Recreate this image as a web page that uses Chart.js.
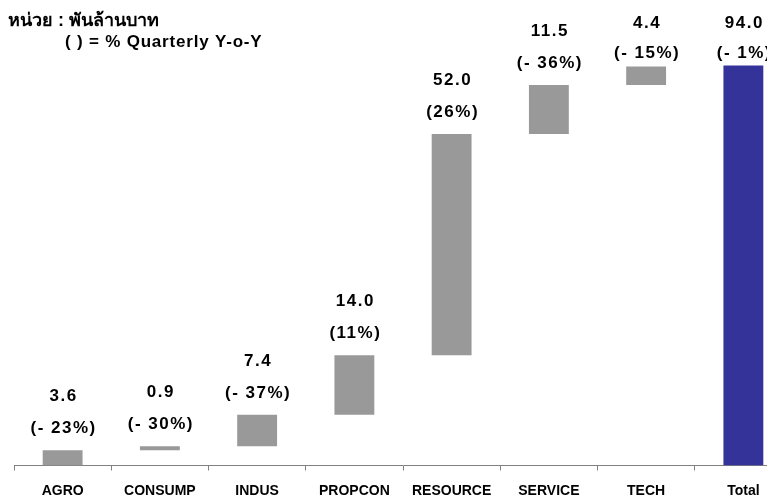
<!DOCTYPE html>
<html>
<head>
<meta charset="utf-8">
<script src="https://cdn.jsdelivr.net/npm/chart.js@4.4.1/dist/chart.umd.min.js"></script>
<style>
  html, body { margin: 0; padding: 0; background: #fff; overflow: hidden; }
  #wrap { width: 800px; height: 497px; }
</style>
</head>
<body>
<div id="wrap"><canvas id="grafico"></canvas></div>
<script>
// datos
var categorias = ['AGRO', 'CONSUMP', 'INDUS', 'PROPCON', 'RESOURCE', 'SERVICE', 'TECH', 'Total'];
var valores = [3.6, 0.9, 7.4, 14.0, 52.0, 11.5, 4.4, 94.0];
var yoy = ['(- 23%)', '(- 30%)', '(- 37%)', '(11%)', '(26%)', '(- 36%)', '(- 15%)', '(- 1%)'];
var titulo1 = 'หน่วย : พันล้านบาท';
var titulo2 = '( ) = % Quarterly Y-o-Y';

// barras flotantes (cascada), la ultima es el total
var barras = [];
var acum = 0;
for (var i = 0; i < valores.length; i++) {
  if (i == valores.length - 1) {
    barras.push([0, valores[i]]);
  } else {
    barras.push([acum, acum + valores[i]]);
    acum = acum + valores[i];
  }
}
var colores = valores.map(function (v, i) {
  return i == valores.length - 1 ? '#333399' : '#999999';
});

var etiquetas = {
  id: 'etiquetas',
  afterDatasetsDraw: function (chart) {
    var ctx = chart.ctx;
    var meta = chart.getDatasetMeta(0);
    ctx.save();
    ctx.fillStyle = '#000';
    ctx.textAlign = 'center';
    ctx.textBaseline = 'middle';
    ctx.font = 'bold 17px "Liberation Sans", Arial, sans-serif';
    ctx.letterSpacing = '1.5px';
    meta.data.forEach(function (bar, i) {
      var top = bar.y;
      var yPct = Math.max(top - 22, 53);
      var yVal = Math.max(yPct - 32, 23);
      ctx.fillText(valores[i].toFixed(1), bar.x + 1, yVal);
      ctx.fillText(yoy[i], bar.x + 1, yPct);
    });
    // titulo
    ctx.textAlign = 'left';
    ctx.textBaseline = 'alphabetic';
    ctx.letterSpacing = '0px';
    ctx.font = 'bold 18px "Liberation Sans", Arial, sans-serif';
    ctx.fillText(titulo1, 8, 26);
    ctx.letterSpacing = '0.8px';
    ctx.font = 'bold 17px "Liberation Sans", Arial, sans-serif';
    ctx.fillText(titulo2, 65, 47);
    ctx.restore();
  }
};

var ctx = document.getElementById('grafico').getContext('2d');
var miGrafico = new Chart(ctx, {
  type: 'bar',
  data: {
    labels: categorias,
    datasets: [{
      data: barras,
      backgroundColor: colores,
      borderWidth: 0,
      categoryPercentage: 1,
      barPercentage: 0.41
    }]
  },
  options: {
    responsive: true,
    maintainAspectRatio: false,
    animation: false,
    devicePixelRatio: 1,
    layout: { padding: { top: 40, left: 14, right: 8, bottom: 0 } },
    plugins: {
      legend: { display: false },
      tooltip: { enabled: false }
    },
    scales: {
      x: {
        afterFit: function (scale) {
          scale.height = 31.5;
        },
        grid: {
          offset: true,
          drawOnChartArea: false,
          drawTicks: true,
          tickLength: 5,
          color: '#808080'
        },
        border: { display: true, color: '#808080', width: 1 },
        ticks: {
          color: '#000',
          padding: 12,
          maxRotation: 0,
          autoSkip: false,
          font: { family: '"Liberation Sans", Arial, sans-serif', size: 14, weight: 'bold' }
        }
      },
      y: {
        display: false,
        min: 0,
        max: 100
      }
    }
  },
  plugins: [etiquetas]
});
</script>
</body>
</html>
